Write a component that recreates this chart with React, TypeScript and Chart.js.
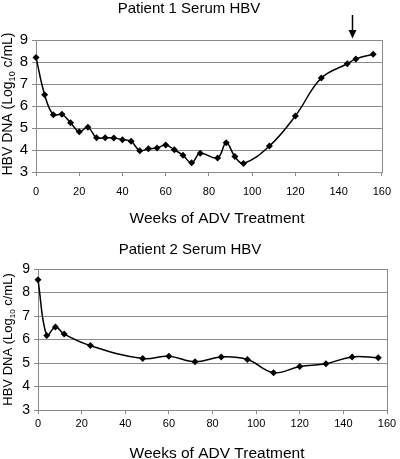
import React, { useEffect, useRef } from "react";
import { Chart, registerables } from "chart.js";

Chart.register(...registerables);

// ---- Data ----
const weeks1 = [0, 4, 8, 12, 16, 20, 24, 28, 32, 36, 40, 44, 48, 52, 56, 60, 64, 68, 72, 76, 84, 88, 92, 96, 108, 120, 132, 144, 148, 156];
const hbv1 = [8.21, 6.51, 5.6, 5.62, 5.24, 4.83, 5.03, 4.56, 4.56, 4.55, 4.47, 4.4, 3.97, 4.06, 4.09, 4.23, 4.01, 3.76, 3.42, 3.85, 3.64, 4.33, 3.7, 3.39, 4.18, 5.55, 7.27, 7.92, 8.14, 8.35];

const weeks2 = [0, 4, 8, 12, 24, 48, 60, 72, 84, 96, 108, 120, 132, 144, 156];
const hbv2 = [8.54, 6.17, 6.53, 6.23, 5.74, 5.19, 5.29, 5.05, 5.26, 5.15, 4.59, 4.85, 4.97, 5.26, 5.22];

const title1 = "Patient 1 Serum HBV";
const title2 = "Patient 2 Serum HBV";
const xTitle = "Weeks of ADV Treatment";
const yTitleMain = "HBV DNA (Log";
const yTitleSub = "10";
const yTitleEnd = " c/mL)";
const arrowWeek1 = 146;

const FONT = "'Liberation Sans', Arial, Helvetica, sans-serif";
const GRID = "#8a8a8a";

type Deco = {
  title: string;
  titleX: number;
  titleY: number;
  titleSize: number;
  xTitleX: number;
  xTitleY: number;
  xTitleSize: number;
  yTitleX: number;
  yTitleY: number;
  yTitleSize: number;
  arrowWeek?: number;
};

function makeDecoPlugin(d: Deco) {
  return {
    id: "deco",
    beforeDatasetsDraw(chart: any) {
      const { ctx, chartArea } = chart;
      ctx.save();
      ctx.strokeStyle = GRID;
      ctx.lineWidth = 1;
      ctx.beginPath();
      const r = Math.round(chartArea.right) + 0.5;
      ctx.moveTo(r, Math.round(chartArea.top));
      ctx.lineTo(r, Math.round(chartArea.bottom) + 1);
      ctx.stroke();
      ctx.restore();
    },
    afterDraw(chart: any) {
      const { ctx } = chart;
      ctx.save();
      ctx.fillStyle = "#000";
      ctx.textAlign = "center";
      ctx.textBaseline = "alphabetic";
      ctx.font = `${d.titleSize}px ${FONT}`;
      ctx.fillText(d.title, d.titleX, d.titleY);
      ctx.font = `${d.xTitleSize}px ${FONT}`;
      ctx.fillText(xTitle, d.xTitleX, d.xTitleY);

      // rotated y title with subscript
      const fs = d.yTitleSize;
      const subFs = Math.round(fs * 0.65);
      ctx.font = `${fs}px ${FONT}`;
      const w1 = ctx.measureText(yTitleMain).width;
      const w3 = ctx.measureText(yTitleEnd).width;
      ctx.font = `${subFs}px ${FONT}`;
      const w2 = ctx.measureText(yTitleSub).width;
      const total = w1 + w2 + w3;
      ctx.translate(d.yTitleX, d.yTitleY);
      ctx.rotate(-Math.PI / 2);
      ctx.textAlign = "left";
      let x = -total / 2;
      ctx.font = `${fs}px ${FONT}`;
      ctx.fillText(yTitleMain, x, 0);
      x += w1;
      ctx.font = `${subFs}px ${FONT}`;
      ctx.fillText(yTitleSub, x, fs * 0.2);
      x += w2;
      ctx.font = `${fs}px ${FONT}`;
      ctx.fillText(yTitleEnd, x, 0);
      ctx.restore();

      if (d.arrowWeek !== undefined) {
        const xs = chart.scales.x;
        const ax = Math.round(xs.getPixelForValue(d.arrowWeek)) + 0.5;
        ctx.save();
        ctx.strokeStyle = "#000";
        ctx.fillStyle = "#000";
        ctx.lineWidth = 1.5;
        ctx.beginPath();
        ctx.moveTo(ax, 15);
        ctx.lineTo(ax, 32);
        ctx.stroke();
        ctx.beginPath();
        ctx.moveTo(ax - 4, 30);
        ctx.lineTo(ax + 4, 30);
        ctx.lineTo(ax, 38.5);
        ctx.closePath();
        ctx.fill();
        ctx.restore();
      }
    },
  };
}

type Cfg = {
  weeks: number[];
  values: number[];
  padTop: number;
  padRight: number;
  yWidth: number;
  xHeight: number;
  yTickSize: number;
  xTickPad: number;
  deco: Deco;
};

function buildConfig(c: Cfg): any {
  return {
    type: "line",
    data: {
      datasets: [
        {
          data: c.weeks.map((w, i) => ({ x: w, y: c.values[i] })),
          borderColor: "#000",
          borderWidth: 1.5,
          pointStyle: "rectRot",
          pointRadius: 3.5,
          pointBackgroundColor: "#000",
          pointBorderColor: "#000",
          pointBorderWidth: 0,
          tension: 0.4,
          clip: false,
        },
      ],
    },
    options: {
      animation: false,
      responsive: false,
      devicePixelRatio: 1,
      layout: { padding: { left: 0, right: c.padRight, top: c.padTop, bottom: 0 } },
      plugins: { legend: { display: false }, tooltip: { enabled: false }, title: { display: false } },
      scales: {
        x: {
          type: "linear",
          min: 0,
          max: 160,
          ticks: { stepSize: 20, color: "#000", font: { size: 11, family: FONT }, padding: c.xTickPad, maxRotation: 0 },
          grid: { drawOnChartArea: false, drawTicks: true, tickLength: 4, color: GRID },
          border: { color: GRID },
          afterFit: (s: any) => {
            s.height = c.xHeight;
          },
        },
        y: {
          type: "linear",
          min: 3,
          max: 9,
          ticks: { stepSize: 1, color: "#000", font: { size: c.yTickSize, family: FONT }, padding: 4 },
          grid: { tickLength: 4, color: GRID },
          border: { color: GRID },
          afterFit: (s: any) => {
            s.width = c.yWidth;
          },
        },
      },
    },
    plugins: [makeDecoPlugin(c.deco)],
  };
}

function LineChart({ cfg, width, height, top }: { cfg: Cfg; width: number; height: number; top: number }) {
  const ref = useRef<HTMLCanvasElement | null>(null);
  useEffect(() => {
    if (!ref.current) return;
    const chart = new Chart(ref.current, buildConfig(cfg));
    return () => chart.destroy();
  }, []);
  return (
    <canvas
      ref={ref}
      width={width}
      height={height}
      style={{ position: "absolute", left: 0, top, width, height, display: "block" }}
    />
  );
}

const cfg1: Cfg = {
  weeks: weeks1,
  values: hbv1,
  padTop: 40,
  padRight: 12,
  yWidth: 36,
  xHeight: 60,
  yTickSize: 15,
  xTickPad: 9,
  deco: {
    title: title1,
    titleX: 189,
    titleY: 13,
    titleSize: 15,
    xTitleX: 217,
    xTitleY: 223,
    xTitleSize: 15.5,
    yTitleX: 12,
    yTitleY: 104,
    yTitleSize: 14,
    arrowWeek: arrowWeek1,
  },
};

const cfg2: Cfg = {
  weeks: weeks2,
  values: hbv2,
  padTop: 37,
  padRight: 13,
  yWidth: 38,
  xHeight: 49,
  yTickSize: 14,
  xTickPad: 3,
  deco: {
    title: title2,
    titleX: 190,
    titleY: 22,
    titleSize: 15,
    xTitleX: 217,
    xTitleY: 225.5,
    xTitleSize: 15.5,
    yTitleX: 12,
    yTitleY: 107.5,
    yTitleSize: 13,
  },
};

export default function App() {
  return (
    <div style={{ position: "fixed", left: 0, top: 0, width: 400, height: 459, background: "#fff", overflow: "hidden" }}>
      <LineChart cfg={cfg1} width={400} height={232} top={0} />
      <LineChart cfg={cfg2} width={400} height={227} top={232} />
    </div>
  );
}
